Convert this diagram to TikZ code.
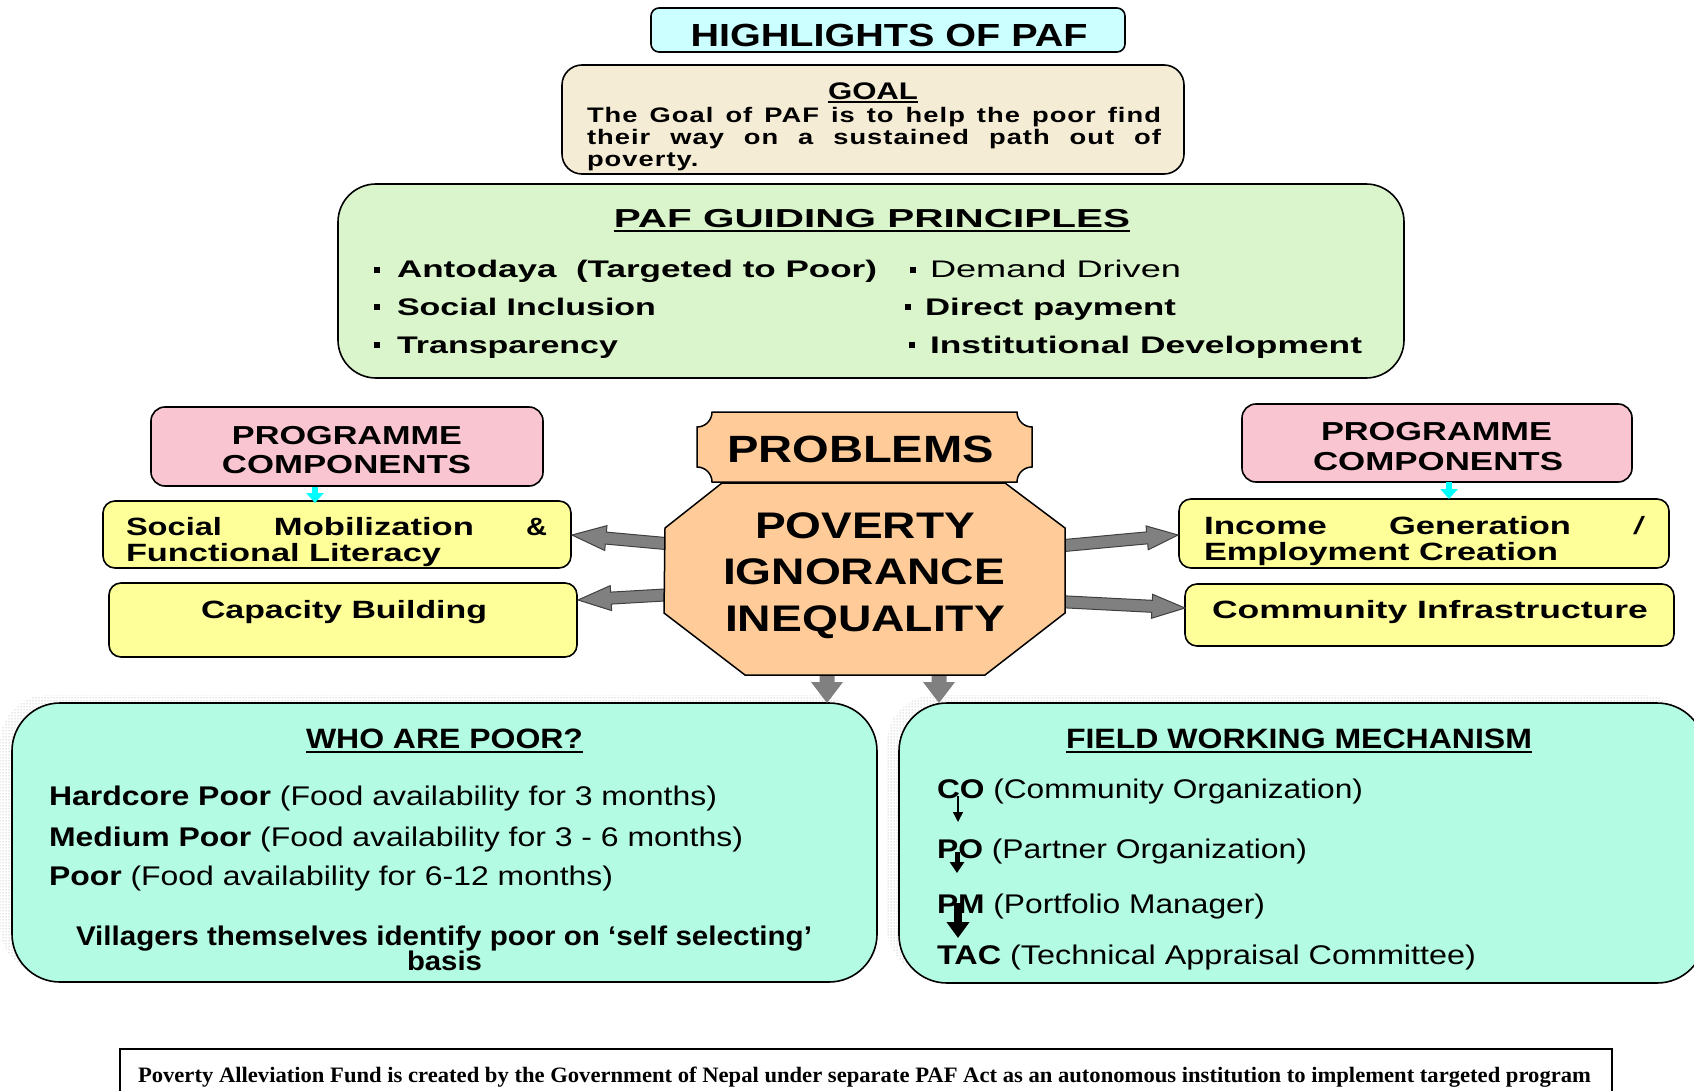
\documentclass[tikz,border=0pt]{standalone}
\usepackage{fontspec}
\setmainfont{Liberation Sans}
\newfontfamily\goalfont{Liberation Sans}[FakeStretch=1.3, LetterSpace=5]
\newfontfamily\footfont{Liberation Serif}
\usetikzlibrary{calc,patterns,arrows.meta}
\definecolor{hlcyan}{HTML}{CCFFFF}
\definecolor{goalbeige}{HTML}{F5ECD6}
\definecolor{prgreen}{HTML}{DAF5CB}
\definecolor{pcpink}{HTML}{F9C5D0}
\definecolor{compyellow}{HTML}{FFFF99}
\definecolor{probpeach}{HTML}{FFCC99}
\definecolor{mint}{HTML}{B3FBE3}
\definecolor{arrowgrey}{HTML}{808080}
\definecolor{arrowcyan}{HTML}{00FFFF}
\newcommand\fw[2]{\resizebox{#1pt}{\height}{#2}}
\newcommand\fs[1]{\fontsize{#1}{#1}\selectfont}
\newcommand\blockarrow[6]{%
  \coordinate (bah) at ($(#3)!#6!(#2)$);
  \path[#1] ($(#2)!#4!90:(#3)$) -- ($(bah)!#4!90:(#3)$) -- ($(bah)!#5!90:(#3)$) -- (#3)
    -- ($(bah)!#5!-90:(#3)$) -- ($(bah)!#4!-90:(#3)$) -- ($(#2)!#4!-90:(#3)$) -- cycle;}
\tikzset{
  box/.style={draw=black, line width=1.6pt, rectangle, inner sep=0pt},
  txt/.style={inner sep=0pt, outer sep=0pt, text=black},
  blockarr/.style={fill=arrowgrey, draw=black!75, line width=1pt},
  downarr/.style={fill=arrowgrey, draw=none},
  cyanarr/.style={draw=arrowcyan, line width=6pt, -{Triangle[length=10pt,width=17pt]}},
  shadowdots/.style={pattern=dots, pattern color=black!40},
  bulletsq/.style={fill=black, minimum size=6pt, inner sep=0pt, draw=none},
  uline/.style={line width=2pt},
}
\begin{document}
\begin{tikzpicture}[x=1pt,y=-1pt]
\useasboundingbox (0,0) rectangle (1694,1091);
\clip (0,0) rectangle (1694,1091);
\fill[white] (0,0) rectangle (1694,1091);

% dotted shadows of the bottom boxes
\fill[shadowdots, rounded corners=48pt] (0,695) rectangle (865,974);
\fill[shadowdots, rounded corners=48pt] (887,695) rectangle (1693,975);

% boxes
\node[box, fill=mint, rounded corners=48pt, minimum width=865pt, minimum height=279pt] (who) at (444.5,842.5) {};
\node[box, fill=mint, rounded corners=48pt, minimum width=806pt, minimum height=280pt] (fwm) at (1302,843) {};
\node[box, fill=hlcyan, rounded corners=8pt, minimum width=474pt, minimum height=44pt] (hl) at (888,30) {};
\node[box, fill=goalbeige, rounded corners=20pt, minimum width=622pt, minimum height=109pt] (goal) at (873,119.5) {};
\node[box, fill=prgreen, rounded corners=38pt, minimum width=1066pt, minimum height=194pt] (pr) at (871,281) {};
\node[box, fill=pcpink, rounded corners=14pt, minimum width=392pt, minimum height=79pt] (pcL) at (347,446.5) {};
\node[box, fill=pcpink, rounded corners=14pt, minimum width=390pt, minimum height=78pt] (pcR) at (1437,443) {};
\node[box, fill=compyellow, rounded corners=12pt, minimum width=468pt, minimum height=67pt] (smL) at (337,534.5) {};
\node[box, fill=compyellow, rounded corners=12pt, minimum width=468pt, minimum height=74pt] (cbL) at (343,620) {};
\node[box, fill=compyellow, rounded corners=12pt, minimum width=490pt, minimum height=69pt] (igR) at (1424,533.5) {};
\node[box, fill=compyellow, rounded corners=12pt, minimum width=489pt, minimum height=62pt] (ciR) at (1429.5,615) {};
\node[draw=black, line width=1.6pt, inner sep=0pt, minimum width=1492pt, minimum height=60pt, anchor=north west] (foot) at (119,1048) {};

% arrow end points
\coordinate (oL1) at (682,545);  \coordinate (tL1) at (572,535);
\coordinate (oL2) at (682,594);  \coordinate (tL2) at (578,600);
\coordinate (oR1) at (1048,547); \coordinate (tR1) at (1178,535);
\coordinate (oR2) at (1048,601); \coordinate (tR2) at (1185,608);
\coordinate (oD1) at (827,668);  \coordinate (tD1) at (827,703);
\coordinate (oD2) at (939,668);  \coordinate (tD2) at (939,703);

\blockarrow{blockarr}{oL1}{tL1}{6pt}{12.5pt}{34pt}
\blockarrow{blockarr}{oL2}{tL2}{6pt}{12.5pt}{33pt}
\blockarrow{blockarr}{oR1}{tR1}{6pt}{12pt}{31pt}
\blockarrow{blockarr}{oR2}{tR2}{6pt}{12pt}{33pt}
\blockarrow{downarr}{oD1}{tD1}{7.5pt}{16pt}{21pt}
\blockarrow{downarr}{oD2}{tD2}{7.5pt}{16pt}{21pt}

% octagon and plaque
\filldraw[fill=probpeach, draw=black, line width=1.5pt]
  (722,483) -- (1005,483) -- (1065,528) -- (1065,613) -- (985,675) -- (745,675) -- (664,613) -- (665,528) -- cycle;
\filldraw[fill=probpeach, draw=black, line width=1.5pt]
  (712,412) -- (1017,412) arc[start angle=180, end angle=90, radius=15]
  -- (1032,467) arc[start angle=270, end angle=180, radius=15]
  -- (712,482) arc[start angle=0, end angle=-90, radius=15]
  -- (697,427) arc[start angle=90, end angle=0, radius=15] -- cycle;

% texts
\node[txt, anchor=base] (hlt) at (889,47) {\fs{32}\bfseries\fw{397}{HIGHLIGHTS OF PAF}};
\node[txt, anchor=base] (goalt) at (873,100) {\fs{24}\bfseries\fw{90}{GOAL}};
\draw[uline] ($(goalt.base west)+(0,2.5)$) -- ($(goalt.base east)+(0,2.5)$);
\node[txt, anchor=base west] (g1) at (587,123) {\goalfont\fs{21}\bfseries\makebox[574pt][s]{The Goal of PAF is to help the poor find}};
\node[txt, anchor=base west] (g2) at (587,145) {\goalfont\fs{21}\bfseries\makebox[574pt][s]{their way on a sustained path out of}};
\node[txt, anchor=base west] (g3) at (587,167) {\goalfont\fs{21}\bfseries poverty.};

\node[txt, anchor=base] (prt) at (872,228) {\fs{26}\bfseries\fw{516}{PAF GUIDING PRINCIPLES}};
\draw[uline] ($(prt.base west)+(0,3)$) -- ($(prt.base east)+(0,3)$);
\node[txt, anchor=base west] (p1) at (397,278) {\fs{24}\bfseries\fw{480}{Antodaya\ \ (Targeted to Poor)}};
\node[txt, anchor=base west] (p2) at (397,315) {\fs{24}\bfseries\fw{259}{Social Inclusion}};
\node[txt, anchor=base west] (p3) at (397,353) {\fs{24}\bfseries\fw{221}{Transparency}};
\node[txt, anchor=base west] (p4) at (930,278) {\fs{24}\fw{251}{Demand Driven}};
\node[txt, anchor=base west] (p5) at (925,315) {\fs{24}\bfseries\fw{251}{Direct payment}};
\node[txt, anchor=base west] (p6) at (930,353) {\fs{24}\bfseries\fw{432}{Institutional Development}};
\node[bulletsq] (b1) at (377,270) {};
\node[bulletsq] (b2) at (377,307) {};
\node[bulletsq] (b3) at (377,345) {};
\node[bulletsq] (b4) at (913,270) {};
\node[bulletsq] (b5) at (908,307) {};
\node[bulletsq] (b6) at (912,345) {};

\node[txt, anchor=base] (pcL1) at (347,444) {\fs{26}\bfseries\fw{230}{PROGRAMME}};
\node[txt, anchor=base] (pcL2) at (346.5,473) {\fs{26}\bfseries\fw{249}{COMPONENTS}};
\node[txt, anchor=base] (pcR1) at (1436.5,440) {\fs{26}\bfseries\fw{231}{PROGRAMME}};
\node[txt, anchor=base] (pcR2) at (1438,470) {\fs{26}\bfseries\fw{250}{COMPONENTS}};

\node[txt, anchor=base west] (sm1) at (126,535) {\fs{25}\bfseries\hbox to 421pt{\fw{96}{Social}\hfill\fw{200}{Mobilization}\hfill\fw{21}{\&}}};
\node[txt, anchor=base west] (sm2) at (126,561) {\fs{25}\bfseries\fw{315}{Functional Literacy}};
\node[txt, anchor=base west] (cbt) at (201,618) {\fs{25}\bfseries\fw{286}{Capacity Building}};
\node[txt, anchor=base west] (ig1) at (1204,534) {\fs{25}\bfseries\hbox to 441pt{\fw{123}{Income}\hfill\fw{182}{Generation}\hfill\fw{12}{\mdseries /}}};
\node[txt, anchor=base west] (ig2) at (1204,560) {\fs{25}\bfseries\fw{354}{Employment Creation}};
\node[txt, anchor=base west] (cit) at (1212,618) {\fs{25}\bfseries\fw{436}{Community Infrastructure}};

\node[txt, anchor=base west] (probt) at (727,462) {\fs{38}\bfseries\fw{267}{PROBLEMS}};
\node[txt, anchor=base west] (pov) at (755,538) {\fs{37}\bfseries\fw{220}{POVERTY}};
\node[txt, anchor=base west] (ign) at (723,584) {\fs{37}\bfseries\fw{282}{IGNORANCE}};
\node[txt, anchor=base west] (ineq) at (725,631) {\fs{37}\bfseries\fw{280}{INEQUALITY}};

\node[txt, anchor=base west] (whot) at (306,748) {\fs{28}\bfseries\fw{277}{WHO ARE POOR?}};
\draw[uline] ($(whot.base west)+(0,3.5)$) -- ($(whot.base east)+(0,3.5)$);
\node[txt, anchor=base west] (hp) at (49,805) {\fs{27}\fw{668}{\textbf{Hardcore Poor} (Food availability for 3 months)}};
\node[txt, anchor=base west] (mp) at (49,846) {\fs{27}\fw{694}{\textbf{Medium Poor} (Food availability for 3 - 6 months)}};
\node[txt, anchor=base west] (pp) at (49,885) {\fs{27}\fw{564}{\textbf{Poor} (Food availability for 6-12 months)}};
\node[txt, anchor=base west] (vil) at (76,945) {\fs{27}\bfseries\fw{736}{Villagers themselves identify poor on ‘self selecting’}};
\node[txt, anchor=base west] (bas) at (407,970) {\fs{27}\bfseries\fw{75}{basis}};

\node[txt, anchor=base west] (fwt) at (1066,748) {\fs{28}\bfseries\fw{466}{FIELD WORKING MECHANISM}};
\draw[uline] ($(fwt.base west)+(0,3.5)$) -- ($(fwt.base east)+(0,3.5)$);
\node[txt, anchor=base west] (co) at (937,798) {\fs{27}\fw{426}{\textbf{CO} (Community Organization)}};
\node[txt, anchor=base west] (po) at (937,858) {\fs{27}\fw{370}{\textbf{PO} (Partner Organization)}};
\node[txt, anchor=base west] (pm) at (937,913) {\fs{27}\fw{328}{\textbf{PM} (Portfolio Manager)}};
\node[txt, anchor=base west] (tac) at (937,964) {\fs{27}\fw{539}{\textbf{TAC} (Technical Appraisal Committee)}};

\node[txt, anchor=base west] (foott) at (138,1082) {\footfont\fs{22}\bfseries\fw{1453}{Poverty Alleviation Fund is created by the Government of Nepal under separate PAF Act as an autonomous institution to implement targeted program}};

% cyan arrows
\coordinate (cL1) at (315,487); \coordinate (cL2) at (315,503);
\coordinate (cR1) at (1449,482); \coordinate (cR2) at (1449,499);
\draw[cyanarr] (cL1) -- (cL2);
\draw[cyanarr] (cR1) -- (cR2);

% small arrows in field mechanism
\coordinate (a1s) at (958,796); \coordinate (a1e) at (958,822);
\coordinate (a2s) at (957,852); \coordinate (a2e) at (957,873);
\coordinate (a3s) at (958,903); \coordinate (a3e) at (958,938);
\draw[line width=1.5pt, -{Triangle[length=10pt,width=10pt]}] (a1s) -- (a1e);
\draw[line width=5pt, -{Triangle[length=11pt,width=14pt]}] (a2s) -- (a2e);
\draw[line width=8pt, -{Triangle[length=16pt,width=22pt]}] (a3s) -- (a3e);
\end{tikzpicture}
\end{document}
